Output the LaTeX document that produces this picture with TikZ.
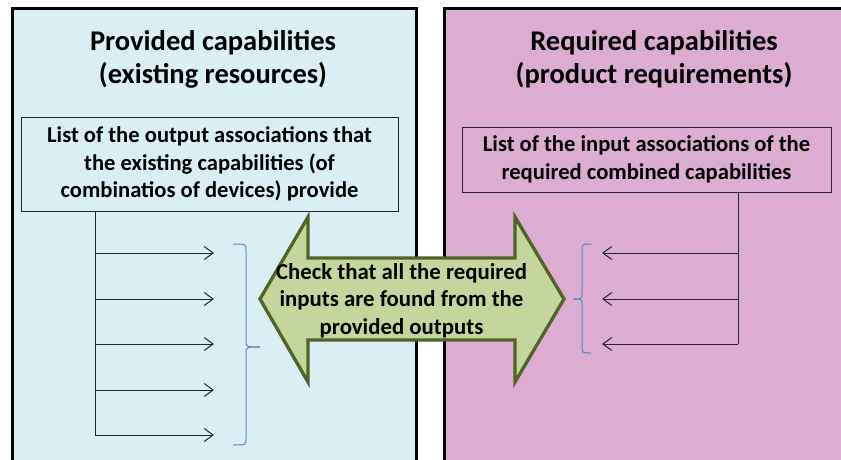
\documentclass[tikz,border=0pt]{standalone}
\usepackage{fontspec}
\setmainfont{Carlito}
\usetikzlibrary{arrows.meta}
\definecolor{panelblue}{RGB}{218,238,244}
\definecolor{panelpink}{RGB}{219,173,208}
\definecolor{arrowfill}{RGB}{196,214,156}
\definecolor{arrowline}{RGB}{80,99,40}
\definecolor{bracecol}{RGB}{84,137,204}
\tikzset{
  panel/.style={draw=black, line width=3pt},
  listbox/.style={draw=black!85, line width=0.9pt, align=center, font=\fontsize{22.6}{27.5}\selectfont\bfseries, inner sep=0pt},
  title/.style={align=center, font=\fontsize{28.5}{33.5}\selectfont\bfseries, inner sep=0pt},
  feed/.style={draw=black!85, line width=1pt},
  flow/.style={draw=black!85, line width=1pt, -{Straight Barb[length=9pt,width=13pt,line width=1pt]}},
  bracestyle/.style={draw=bracecol, line width=1pt},
  bigarrow/.style={draw=arrowline, fill=arrowfill, line width=3.3pt, line join=miter},
  arrowtext/.style={align=center, font=\fontsize{22.8}{27.5}\selectfont\bfseries, inner sep=0pt}
}
\begin{document}
\begin{tikzpicture}[x=1pt,y=-1pt]
\useasboundingbox (0,0) rectangle (841,460);
\begin{scope}
\clip (0,0) rectangle (841,460);
\fill[white] (0,0) rectangle (841,460);
\filldraw[panel, fill=panelblue] (12.5,8.5) rectangle (416,475);
\filldraw[panel, fill=panelpink] (444,8.5) rectangle (860,475);
\end{scope}

\node[title] (ltitle) at (213,59.5) {Provided capabilities\\(existing resources)};
\node[title] (rtitle) at (654,59) {Required capabilities\\(product requirements)};

\node[listbox, minimum width=377pt, minimum height=94pt] (lbox) at (209.5,164)
  {List of the output associations that\\the existing capabilities (of\\combinatios of devices) provide};
\node[listbox, minimum width=369pt, minimum height=65pt] (rbox) at (646.5,159.5)
  {List of the input associations of the\\required combined capabilities};

% left feed
\coordinate (ltop) at (95,211);
\coordinate (lbot) at (95,435);
\draw[feed] (ltop) -- (lbot);
\foreach \i/\y in {1/253,2/299,3/344,4/390,5/435}{
  \coordinate (ls\i) at (95,\y);
  \coordinate (le\i) at (214,\y);
  \draw[flow] (ls\i) -- (le\i);
}
% right feed
\coordinate (rtop) at (738,192);
\coordinate (rbot) at (738,344);
\draw[feed] (rtop) -- (rbot);
\foreach \i/\y in {1/253,2/299,3/344}{
  \coordinate (rs\i) at (738,\y);
  \coordinate (re\i) at (602,\y);
  \draw[flow] (rs\i) -- (re\i);
}

% braces
\draw[bracestyle] (233,244) .. controls (246,244) .. (246,251) -- (246,340)
  .. controls (246,347) .. (260,347);
\draw[bracestyle] (260,347) .. controls (246,347) .. (246,354) -- (246,438)
  .. controls (246,445) .. (233,445);
\draw[bracestyle] (591,244) .. controls (582,244) .. (582,251) -- (582,293)
  .. controls (582,299) .. (573,299);
\draw[bracestyle] (573,299) .. controls (582,299) .. (582,305) -- (582,346)
  .. controls (582,353) .. (591,353);

% big double arrow
\draw[bigarrow] (260,299) -- (308,217) -- (308,258) -- (515,258) -- (515,217)
  -- (564,299) -- (515,382) -- (515,340) -- (308,340) -- (308,382) -- cycle;
\node[arrowtext] (check) at (401.5,300.5)
  {Check that all the required\\inputs are found from the\\provided outputs};
\end{tikzpicture}
\end{document}
